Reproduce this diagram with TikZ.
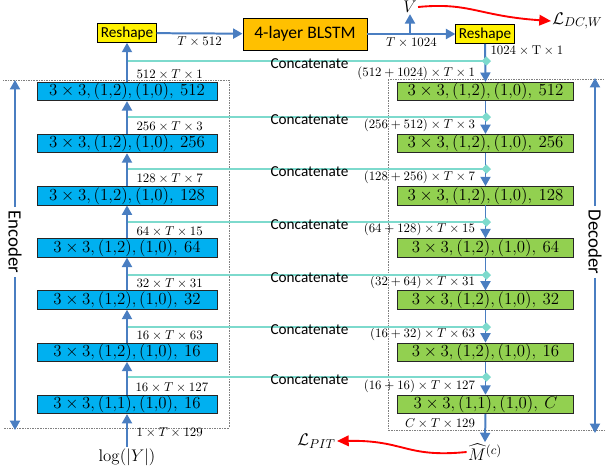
\documentclass[tikz,border=0pt]{standalone}
\usepackage{amsmath}
\usepackage[no-math]{fontspec}
\setmainfont{Carlito}
\usetikzlibrary{arrows.meta,positioning}
\definecolor{encblue}{RGB}{0,176,240}
\definecolor{decgreen}{RGB}{146,208,80}
\definecolor{lstmorange}{RGB}{255,192,0}
\definecolor{flowblue}{RGB}{74,126,193}
\definecolor{catteal}{RGB}{125,218,205}
\tikzset{
  flow/.style={draw=flowblue,line width=1.7pt,-{Triangle[width=8.5pt,length=8pt]}},
  concat/.style={draw=catteal,line width=2.2pt,-{Diamond[width=8pt,length=8pt]}},
  loss/.style={draw=red,line width=1.6pt,-{Triangle[width=9pt,length=10pt]}},
  layer/.style={draw=black!85,line width=0.8pt,minimum width=5.4cm,minimum height=0.55cm,inner sep=0pt,font=\fontsize{13.5}{15}\selectfont},
  encbox/.style={layer,fill=encblue},
  decbox/.style={layer,fill=decgreen,minimum width=5.3cm},
  reshapebox/.style={draw=black,line width=0.8pt,fill=yellow,minimum width=1.75cm,minimum height=0.56cm,inner sep=1pt,font=\fontsize{13}{14}\selectfont},
  dim/.style={font=\fontsize{11}{12}\selectfont,inner sep=1pt},
  catlabel/.style={font=\fontsize{13}{14}\selectfont,inner sep=0pt,yshift=-2pt},
  sidelabel/.style={font=\fontsize{16}{18}\selectfont,rotate=-90,inner sep=3pt},
  bigmath/.style={font=\fontsize{15}{17}\selectfont,inner sep=1pt}
}
\begin{document}
\begin{tikzpicture}[x=0.03cm,y=-0.03cm]
  \useasboundingbox (0,0) rectangle (605,471);
  % dotted frames
  \draw[densely dotted,gray] (3,80) -- (229,80) -- (229,428) -- (3,428);
  \draw[densely dotted,gray] (605,79) -- (388,79) -- (388,430) -- (605,430);
  % top
  \node[reshapebox] (rsL) at (127,33) {Reshape};
  \node[draw=black,line width=0.8pt,fill=lstmorange,minimum width=3.72cm,minimum height=0.96cm,font=\fontsize{15}{17}\selectfont] (lstm) at (305,34) {4-layer BLSTM};
  \node[reshapebox] (rsR) at (485,34) {Reshape};
  \node[bigmath] (V) at (410,7) {$V$};
  \node[bigmath,anchor=west] (Ldc) at (551,21) {$\mathcal{L}_{DC,W}$};
  \draw[flow] (rsL) -- node[dim,below=1pt] {$T\times512$} (lstm);
  \draw[flow] (lstm) -- node[dim,below=1pt] {$T\times1024$} (rsR);
  \coordinate (vb) at (410,34);
  \draw[flow] (vb) -- (V.south);
  \draw[loss] (V.east) .. controls (470,2) and (478,16) .. (Ldc.west);
  % encoder
  \node[encbox] (enc1) at (127,91.5) {$3\times3,(1{,}2),(1{,}0),\ 512$};
  \node[encbox] (enc2) at (127,143.6) {$3\times3,(1{,}2),(1{,}0),\ 256$};
  \node[encbox] (enc3) at (127,195.8) {$3\times3,(1{,}2),(1{,}0),\ 128$};
  \node[encbox] (enc4) at (127,248) {$3\times3,(1{,}2),(1{,}0),\ 64$};
  \node[encbox] (enc5) at (127,300.1) {$3\times3,(1{,}2),(1{,}0),\ 32$};
  \node[encbox] (enc6) at (127,352.2) {$3\times3,(1{,}2),(1{,}0),\ 16$};
  \node[encbox] (enc7) at (127,404.4) {$3\times3,(1{,}1),(1{,}0),\ 16$};
  \node[bigmath] (logY) at (127,457) {$\log(|Y|)$};
  \draw[flow] (logY.north) -- (enc7.south) node[dim,anchor=north west,xshift=2.2mm,yshift=-10pt] {$1\times T\times129$};
  \draw[flow] (enc7.north) node[dim,anchor=south west,xshift=1.9mm] {$16\times T\times127$} -- (enc6.south);
  \draw[flow] (enc6.north) node[dim,anchor=south west,xshift=2.2mm] {$16\times T\times63$} -- (enc5.south);
  \draw[flow] (enc5.north) node[dim,anchor=south west,xshift=2.2mm] {$32\times T\times31$} -- (enc4.south);
  \draw[flow] (enc4.north) node[dim,anchor=south west,xshift=2.2mm] {$64\times T\times15$} -- (enc3.south);
  \draw[flow] (enc3.north) node[dim,anchor=south west,xshift=2.2mm] {$128\times T\times7$} -- (enc2.south);
  \draw[flow] (enc2.north) node[dim,anchor=south west,xshift=2.2mm] {$256\times T\times3$} -- (enc1.south);
  \draw[flow] (enc1.north) node[dim,anchor=south west,xshift=2.2mm] {$512\times T\times1$} -- (rsL.south);
  % decoder
  \node[decbox] (dec1) at (485.5,91.5) {$3\times3,(1{,}2),(1{,}0),\ 512$};
  \node[decbox] (dec2) at (485.5,143.6) {$3\times3,(1{,}2),(1{,}0),\ 256$};
  \node[decbox] (dec3) at (485.5,195.8) {$3\times3,(1{,}2),(1{,}0),\ 128$};
  \node[decbox] (dec4) at (485.5,248) {$3\times3,(1{,}2),(1{,}0),\ 64$};
  \node[decbox] (dec5) at (485.5,300.1) {$3\times3,(1{,}2),(1{,}0),\ 32$};
  \node[decbox] (dec6) at (485.5,352.2) {$3\times3,(1{,}2),(1{,}0),\ 16$};
  \node[decbox] (dec7) at (485.5,404.4) {$3\times3,(1{,}1),(1{,}0),\ C$};
  \node[bigmath] (Mhat) at (485,452) {$\widehat{M}^{(c)}$};
  \node[bigmath,anchor=east] (Lpit) at (337,441) {$\mathcal{L}_{PIT}$};
  \draw[flow] (rsR.south) node[dim,anchor=north west,xshift=1mm] {$1024\times\mathrm{T}\times1$} -- (dec1.north) node[dim,anchor=south east,xshift=-2.5mm] {$(512+1024)\times T\times1$};
  \draw[flow] (dec1.south) -- (dec2.north) node[dim,anchor=south east,xshift=-2.5mm] {$(256+512)\times T\times3$};
  \draw[flow] (dec2.south) -- (dec3.north) node[dim,anchor=south east,xshift=-2.5mm] {$(128+256)\times T\times7$};
  \draw[flow] (dec3.south) -- (dec4.north) node[dim,anchor=south east,xshift=-2.5mm] {$(64+128)\times T\times15$};
  \draw[flow] (dec4.south) -- (dec5.north) node[dim,anchor=south east,xshift=-2.5mm] {$(32+64)\times T\times31$};
  \draw[flow] (dec5.south) -- (dec6.north) node[dim,anchor=south east,xshift=-2.5mm] {$(16+32)\times T\times63$};
  \draw[flow] (dec6.south) -- (dec7.north) node[dim,anchor=south east,xshift=-2.5mm] {$(16+16)\times T\times127$};
  \draw[flow] (dec7.south) node[dim,anchor=north east,xshift=-2.5mm,yshift=-2pt] {$C\times T\times129$} -- (Mhat.north);
  \draw[loss] (Mhat.west) .. controls (405,458) and (405,440) .. (Lpit.east);
  % skip connections
  \coordinate (c1l) at (128,61);  \coordinate (c1r) at (491,61);
  \coordinate (c2l) at (128,117); \coordinate (c2r) at (491,117);
  \coordinate (c3l) at (128,169); \coordinate (c3r) at (491,169);
  \coordinate (c4l) at (128,222); \coordinate (c4r) at (491,222);
  \coordinate (c5l) at (128,275); \coordinate (c5r) at (491,275);
  \coordinate (c6l) at (128,327); \coordinate (c6r) at (491,327);
  \coordinate (c7l) at (128,377); \coordinate (c7r) at (491,377);
  \draw[concat] (c1l) -- node[catlabel] {Concatenate} (c1r);
  \draw[concat] (c2l) -- node[catlabel] {Concatenate} (c2r);
  \draw[concat] (c3l) -- node[catlabel] {Concatenate} (c3r);
  \draw[concat] (c4l) -- node[catlabel] {Concatenate} (c4r);
  \draw[concat] (c5l) -- node[catlabel] {Concatenate} (c5r);
  \draw[concat] (c6l) -- node[catlabel] {Concatenate} (c6r);
  \draw[concat] (c7l) -- node[catlabel] {Concatenate} (c7r);
  % side arrows
  \node[sidelabel] (encName) at (15,242) {Encoder};
  \coordinate (encTop) at (15,80);
  \coordinate (encBot) at (15,430);
  \draw[flow] (encName.west) -- (encTop);
  \draw[flow] (encName.east) -- (encBot);
  \node[sidelabel] (decName) at (595,242) {Decoder};
  \coordinate (decTop) at (595,78);
  \coordinate (decBot) at (595,433);
  \draw[flow] (decName.west) -- (decTop);
  \draw[flow] (decName.east) -- (decBot);
\end{tikzpicture}
\end{document}
